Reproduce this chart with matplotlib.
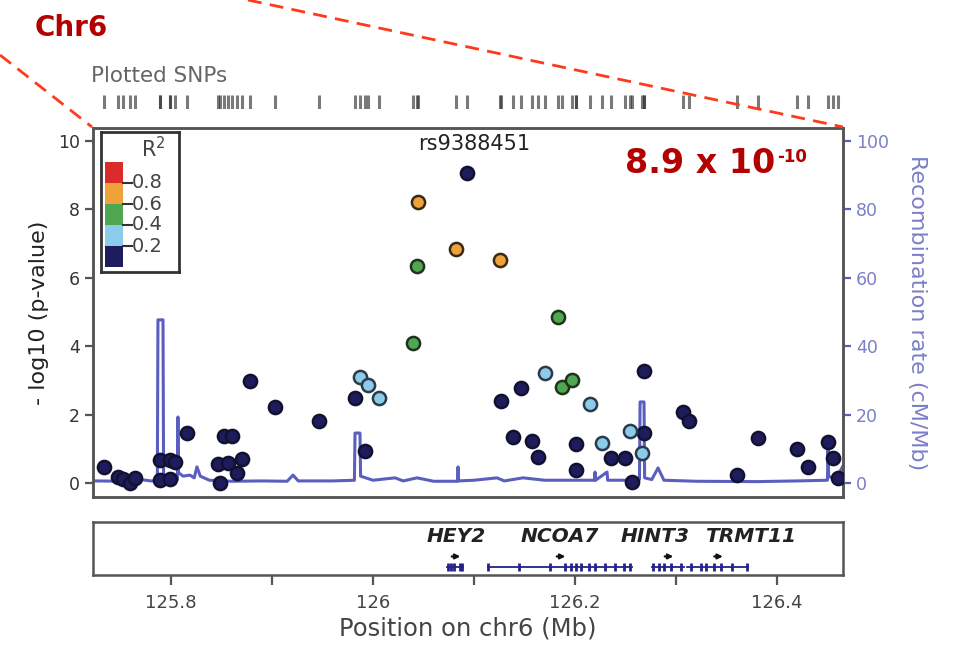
import numpy as np
import matplotlib.pyplot as plt
from matplotlib.lines import Line2D
from matplotlib.patches import Rectangle

plt.rcParams['font.family'] = ['DejaVu Sans']

# SNPs grouped by LD (r^2) with the lead SNP; position in Mb, -log10(p)
dark_pos = [125.7337, 125.7475, 125.7525, 125.7594, 125.7644, 125.7891, 125.7990,
            125.8040, 125.7891, 125.7990, 125.8158, 125.8525, 125.8604, 125.8465,
            125.8564, 125.8703, 125.8653, 125.8485, 125.8782, 125.9030, 125.9465,
            125.9822, 125.9921, 126.1465, 126.1267, 126.1386, 126.1574, 126.1634,
            126.2010, 126.2010, 126.2356, 126.2495, 126.2683, 126.2683, 126.2564,
            126.3069, 126.3129, 126.3812, 126.3604, 126.4198, 126.4307, 126.4505,
            126.4554, 126.4604]
dark_logp = [0.47, 0.18, 0.12, 0.00, 0.15, 0.67, 0.67,
             0.61, 0.09, 0.12, 1.46, 1.37, 1.37, 0.56,
             0.58, 0.70, 0.29, 0.00, 2.98, 2.22, 1.81,
             2.49, 0.94, 2.78, 2.40, 1.35, 1.23, 0.76,
             1.14, 0.38, 0.73, 0.73, 3.27, 1.46, 0.03,
             2.08, 1.81, 1.32, 0.23, 0.99, 0.47, 1.20,
             0.73, 0.15]

lblue_pos = [125.9871, 125.9950, 126.0059, 126.1703, 126.2149, 126.2267, 126.2545, 126.2663]
lblue_logp = [3.10, 2.87, 2.49, 3.22, 2.31, 1.17, 1.52, 0.88]

green_pos = [126.0396, 126.0436, 126.1832, 126.1871, 126.1970]
green_logp = [4.09, 6.35, 4.85, 2.81, 3.01]

orange_pos = [126.0446, 126.0822, 126.1257]
orange_logp = [8.22, 6.84, 6.52]

lead_snp = "rs9388451"
lead_pos = 126.0931
lead_p = 8.9e-10

# recombination rate (cM/Mb)
recomb_pos = [125.7228, 125.7600, 125.7700, 125.7800, 125.7865, 125.7871, 125.7921,
              125.7927, 125.8000, 125.8063, 125.8069, 125.8075, 125.8120, 125.8188,
              125.8230, 125.8257, 125.8290, 125.8380, 125.8600, 125.8900, 125.9150,
              125.9208, 125.9260, 125.9600, 125.9816, 125.9822, 125.9871, 125.9877,
              126.0000, 126.0218, 126.0300, 126.0436, 126.0600, 126.0836, 126.0842,
              126.0848, 126.1000, 126.1228, 126.1300, 126.1485, 126.1700, 126.2192,
              126.2198, 126.2204, 126.2317, 126.2323, 126.2500, 126.2638, 126.2644,
              126.2683, 126.2689, 126.2760, 126.2822, 126.2880, 126.3200, 126.3800,
              126.4200, 126.4499, 126.4505, 126.4511, 126.4580, 126.4653]
recomb_rate = [0.6, 0.5, 1.0, 0.6, 0.6, 47.7, 47.7,
               1.2, 1.0, 1.0, 19.3, 3.0, 2.0, 2.3,
               1.5, 4.7, 2.0, 0.8, 0.5, 0.6, 0.5,
               2.3, 0.6, 0.6, 0.8, 14.6, 14.6, 2.0,
               0.8, 1.5, 0.6, 1.5, 0.5, 0.5, 4.7,
               0.6, 0.8, 1.5, 0.6, 1.5, 0.8, 0.8,
               3.2, 0.8, 3.2, 0.8, 0.8, 1.0, 23.7,
               23.7, 1.5, 1.0, 4.4, 0.8, 0.5, 0.4,
               0.6, 0.8, 10.0, 2.0, 1.0, 5.0]

# genes in the region
gene_names = ["HEY2", "NCOA7", "HINT3", "TRMT11"]
gene_start = [126.0733, 126.1139, 126.2762, 126.3109]
gene_end = [126.0891, 126.2564, 126.3079, 126.3713]
gene_label_x = [126.0822, 126.1850, 126.2790, 126.3733]
gene_exons = [
    [126.0740, 126.0770, 126.0800, 126.0860, 126.0885],
    [126.1139, 126.1450, 126.1750, 126.1900, 126.1960, 126.2010, 126.2060,
     126.2140, 126.2200, 126.2300, 126.2400, 126.2480, 126.2540],
    [126.2770, 126.2830, 126.2880, 126.2950, 126.3050],
    [126.3150, 126.3250, 126.3300, 126.3380, 126.3450, 126.3550, 126.3700],
]

r2_edges = [0.0, 0.2, 0.4, 0.6, 0.8, 1.0]
r2_colors = ["#1e1c5c", "#8ccbe9", "#4fa84f", "#eea33a", "#dc2b2b"]

xticks = [125.8, 126.0, 126.2, 126.4]
xtick_labels = ["125.8", "126", "126.2", "126.4"]
xlim = (125.7228, 126.4653)

W, H = 962, 649
fig = plt.figure(figsize=(W / 100, H / 100), dpi=100)


def fbox(x0, y0, x1, y1):
    # pixel box (top-left origin) -> figure fraction rect
    return [x0 / W, 1 - y1 / H, (x1 - x0) / W, (y1 - y0) / H]


frame_col = "#555555"
recomb_col = "#5a5fbf"
recomb_txt = "#7a7fc8"

# ---- main association panel ----
ax = fig.add_axes(fbox(93, 128, 843, 497))
ax2 = ax.twinx()
ax.set_zorder(ax2.get_zorder() + 1)
ax.patch.set_visible(False)

ax2.plot(recomb_pos, recomb_rate, color=recomb_col, lw=2.2, zorder=1)
ax2.set_ylim(-4.1, 103.8)
ax2.set_yticks([0, 20, 40, 60, 80, 100])
ax2.tick_params(axis="y", colors=recomb_col, labelcolor=recomb_txt,
                labelsize=12.5, length=6, width=1.6, direction="out")
ax2.set_ylabel("Recombination rate (cM/Mb)", color=recomb_txt, fontsize=16,
               rotation=270, labelpad=27)

mk = dict(s=90, linewidths=1.8, zorder=3)
ax.scatter(dark_pos, dark_logp, c=r2_colors[0], edgecolors="#121230", **mk)
ax.scatter(lblue_pos, lblue_logp, c=r2_colors[1], edgecolors="#2b3b4a", **mk)
ax.scatter(green_pos, green_logp, c=r2_colors[2], edgecolors="#1f3320", **mk)
ax.scatter(orange_pos, orange_logp, c=r2_colors[3], edgecolors="#3a2a14", **mk)
ax.scatter([lead_pos], [-np.log10(lead_p)], c=r2_colors[0], edgecolors="#121230", **mk)
ax.text(lead_pos + 0.0075, 9.9, lead_snp, ha="center", va="center",
        fontsize=15, color="#222222")

ax.set_xlim(*xlim)
ax.set_ylim(-0.41, 10.38)
ax.set_yticks([0, 2, 4, 6, 8, 10])
ax.set_xticks([])
ax.tick_params(axis="y", colors=frame_col, labelcolor="#333333",
               labelsize=12.5, length=6, width=1.6)
ax.set_ylabel("- log10 (p-value)", fontsize=16, color="#222222", labelpad=6)
for a in (ax, ax2):
    for sp in a.spines.values():
        sp.set_color(frame_col)
        sp.set_linewidth(1.8)

# p-value of the lead SNP
mant, expo = f"{lead_p:.1e}".split("e")
ptxt = ax.text(0.710, 0.905, f"{mant} x 10", transform=ax.transAxes,
               fontsize=24, fontweight="bold", color="#b30000",
               ha="left", va="center")
ax.annotate(f"{int(expo)}", xy=(1, 1), xycoords=ptxt, xytext=(1, -1),
            textcoords="offset points", fontsize=12, fontweight="bold",
            color="#b30000", ha="left", va="top")

# ---- r^2 legend ----
leg = fig.add_axes(fbox(101, 132, 179, 272))
leg.set_xlim(0, 78)
leg.set_ylim(140, 0)
leg.set_xticks([])
leg.set_yticks([])
for sp in leg.spines.values():
    sp.set_color("#333333")
    sp.set_linewidth(2)
for lo, hi, col in zip(r2_edges[:-1], r2_edges[1:], r2_colors):
    y_hi = 135 - hi * 105
    leg.add_patch(Rectangle((4, y_hi), 18, (hi - lo) * 105, color=col, lw=0))
for r in r2_edges[1:-1]:
    yy = 135 - r * 105
    leg.plot([22, 31], [yy, yy], color="#333333", lw=1.5)
    leg.text(31, yy, f"{r:.1f}", fontsize=14, color="#444444", va="center", ha="left")
leg.text(52, 17, "R$^2$", fontsize=15, color="#444444", ha="center", va="center")

# ---- plotted SNPs rug ----
all_pos = dark_pos + lblue_pos + green_pos + orange_pos + [lead_pos]
rug = fig.add_axes(fbox(93, 95, 843, 109))
rug.vlines(all_pos, 0, 1, color="#333333", lw=2.2, alpha=0.65)
rug.set_xlim(*xlim)
rug.set_ylim(0, 1)
rug.axis("off")
fig.text(91 / W, 1 - 76 / H, "Plotted SNPs", fontsize=15.5, color="#666666",
         ha="left", va="center")

# ---- gene panel ----
gax = fig.add_axes(fbox(93, 522, 843, 575))
gax.set_xlim(*xlim)
gax.set_ylim(0, 1)
gax.set_yticks([])
gax.set_xticks(xticks)
gax.set_xticklabels(xtick_labels)
gax.set_xticks([125.9, 126.1, 126.3], minor=True)
gax.tick_params(axis="x", which="both", length=7, width=1.6, colors=frame_col,
                labelcolor="#444444", labelsize=13, pad=7)
for sp in gax.spines.values():
    sp.set_color(frame_col)
    sp.set_linewidth(1.8)
gene_col = "#22228a"
for name, s, e, lx, ex in zip(gene_names, gene_start, gene_end, gene_label_x, gene_exons):
    gax.plot([s, e], [0.15, 0.15], color=gene_col, lw=1.3)
    gax.vlines(ex, 0.07, 0.23, color=gene_col, lw=2)
    mid = (s + e) / 2
    gax.annotate("", xy=(mid + 0.008, 0.35), xytext=(mid - 0.006, 0.35),
                 arrowprops=dict(arrowstyle="-|>", color="#111111", lw=1.6,
                                 mutation_scale=7))
    gax.text(lx, 0.72, name, fontsize=14.5, fontstyle="italic", fontweight="bold",
             color="#222222", ha="center", va="center")
gax.set_xlabel("Position on chr6 (Mb)", fontsize=17.5, color="#444444", labelpad=3)

# ---- chromosome tag and zoom guides ----
fig.text(35 / W, 1 - 28 / H, "Chr6", fontsize=20, fontweight="bold",
         color="#b30000", ha="left", va="center")
for x0, y0, x1, y1 in [(0, 55, 92, 127), (248, 0, 843, 127)]:
    fig.add_artist(Line2D([x0 / W, x1 / W], [1 - y0 / H, 1 - y1 / H],
                          transform=fig.transFigure, color="#ff3a1c", lw=2,
                          ls=(0, (5, 3))))

fig.savefig("out.png", dpi=100)
